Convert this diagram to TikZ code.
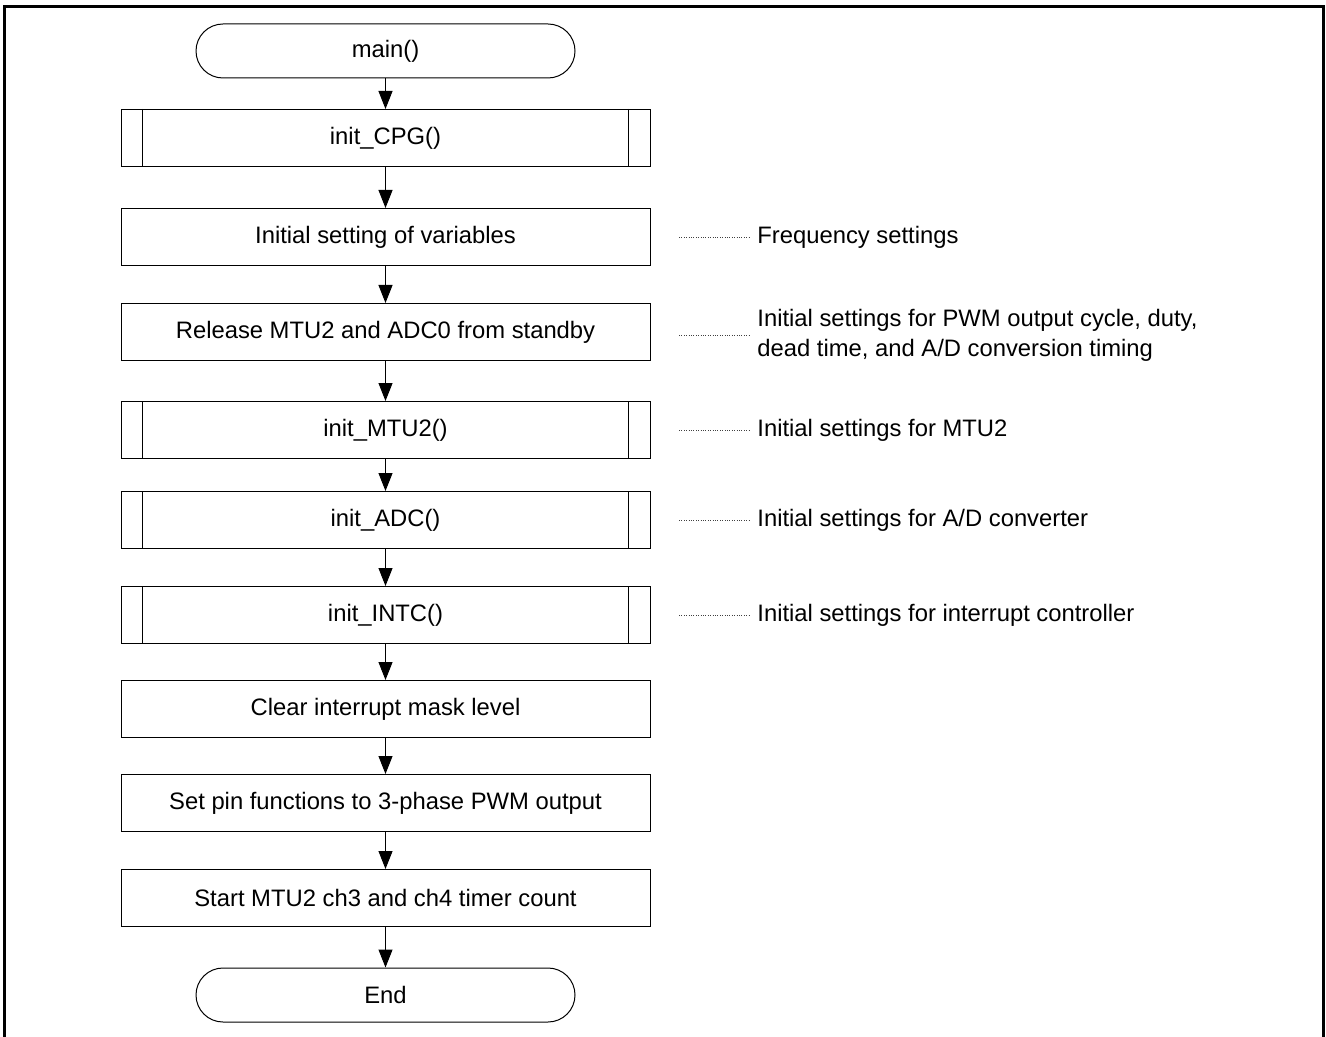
\documentclass[tikz,border=0pt]{standalone}
\usepackage{fontspec}
\setmainfont{Liberation Sans}
\usetikzlibrary{arrows.meta}

\tikzset{
  proc/.style={draw, line width=0.5pt, minimum width=264.5pt, minimum height=28.5pt, inner sep=0pt},
  term/.style={draw, line width=0.5pt, rounded corners=13.5pt, minimum width=189.5pt, minimum height=27pt, inner sep=0pt},
  flow/.style={-{Triangle[width=7pt,length=9pt]}, line width=0.5pt},
  memo/.style={draw=black!75, line width=0.4pt, dash pattern=on 0.4pt off 0.8pt},
  note/.style={anchor=west, inner sep=4pt, align=left},
}

\begin{document}
\begin{tikzpicture}[x=0.5pt,y=0.5pt,yscale=-1,xscale=1,font=\fontsize{11.9}{15}\selectfont]
\useasboundingbox (0,0) rectangle (1326,1037);

%Frame
\draw [line width=1.5pt] (4,1040) -- (4,7) -- (1323,7) -- (1323,1040) ;

%Flowchart: Terminator
\draw (385.5,51) node [term] (main) {main()};
%Flowchart: Predefined Process
\draw (385.5,138) node [proc] (cpg) {init\_CPG()};
%Flowchart: Process
\draw (385.5,237) node [proc] (vars) {Initial setting of variables};
%Flowchart: Process
\draw (385.5,332) node [proc] (stby) {Release MTU2 and ADC0 from standby};
%Flowchart: Predefined Process
\draw (385.5,430) node [proc] (mtu) {init\_MTU2()};
%Flowchart: Predefined Process
\draw (385.5,520) node [proc] (adc) {init\_ADC()};
%Flowchart: Predefined Process
\draw (385.5,615) node [proc] (intc) {init\_INTC()};
%Flowchart: Process
\draw (385.5,709) node [proc] (mask) {Clear interrupt mask level};
%Flowchart: Process
\draw (385.5,803) node [proc] (pins) {Set pin functions to 3-phase PWM output};
%Flowchart: Process
\draw (385.5,898) node [proc] (start) {Start MTU2 ch3 and ch4 timer count};
%Flowchart: Terminator
\draw (385.5,995) node [term] (end) {End};

%Predefined Process side bars
\foreach \n in {cpg,mtu,adc,intc}
  \draw ([xshift=11pt]\n.north west) -- ([xshift=11pt]\n.south west)
        ([xshift=-11pt]\n.north east) -- ([xshift=-11pt]\n.south east) ;

%Straight Lines
\foreach \a/\b in {main/cpg,cpg/vars,vars/stby,stby/mtu,mtu/adc,adc/intc,intc/mask,mask/pins,pins/start,start/end}
  \draw [flow] (\a) -- (\b) ;

% Text Node
\draw (749,237) node [note] (nfreq) {Frequency settings};
% Text Node
\draw (749,335) node [note] (npwm) {Initial settings for PWM output cycle, duty,\\dead time, and A/D conversion timing};
% Text Node
\draw (749,430) node [note] (nmtu) {Initial settings for MTU2};
% Text Node
\draw (749,520) node [note] (nadc) {Initial settings for A/D converter};
% Text Node
\draw (749,615) node [note] (nintc) {Initial settings for interrupt controller};

%Dotted leaders
\coordinate (dfreq) at (679,237);
\coordinate (dpwm) at (679,335);
\coordinate (dmtu) at (679,430);
\coordinate (dadc) at (679,520);
\coordinate (dintc) at (679,615);
\foreach \d/\t in {dfreq/nfreq,dpwm/npwm,dmtu/nmtu,dadc/nadc,dintc/nintc}
  \draw [memo] (\d) -- (\t.west) ;

\end{tikzpicture}
\end{document}
